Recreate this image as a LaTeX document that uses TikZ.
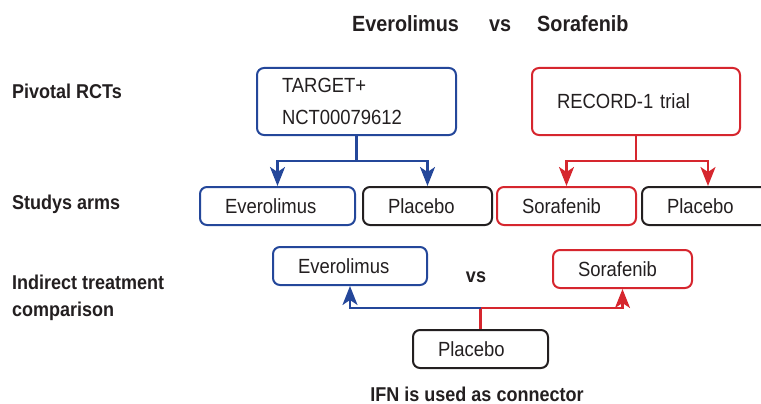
\documentclass[tikz,border=0pt]{standalone}
\usepackage{fontspec}
\setmainfont{Liberation Sans}[FakeStretch=0.9]
\usepackage{xcolor}
\definecolor{Ink}{HTML}{231F20}
\definecolor{TrialBlue}{HTML}{24479A}
\definecolor{TrialRed}{HTML}{D6262E}
\usepackage{tikz}
\usetikzlibrary{arrows.meta, positioning}

\begin{document}
\begin{tikzpicture}[x=1pt, y=-1pt, >={Stealth[length=19pt, width=15pt, inset=5pt]},
  box/.style={rectangle, rounded corners=7pt, line width=2pt, fill=white,
              inner xsep=25pt, inner ysep=0pt, minimum height=38pt, text width=#1,
              align=left, text=Ink, font=\fontsize{20.5}{32}\selectfont},
  bluebox/.style={box=#1, draw=TrialBlue},
  redbox/.style={box=#1, draw=TrialRed},
  inkbox/.style={box=#1, draw=Ink},
  rowlbl/.style={anchor=base west, align=left, text=Ink, inner sep=0pt,
                 font=\bfseries\fontsize{20}{27}\selectfont},
  ttl/.style={anchor=base west, text=Ink, inner sep=0pt,
              font=\bfseries\fontsize{22}{26}\selectfont},
  barr/.style={->, line width=2.3pt, draw=TrialBlue, color=TrialBlue},
  rarr/.style={->, line width=2.3pt, draw=TrialRed, color=TrialRed},
  rline/.style={line width=2.3pt, draw=TrialRed}
]
\path[use as bounding box, clip] (0,0) rectangle (761,404);

%% ---- Title ----
\node[ttl] (ttlEv) at (352, 32) {Everolimus};
\node[ttl] (ttlVs) at (489, 32) {vs};
\node[ttl] (ttlSo) at (537, 32) {Sorafenib};

%% ---- Row labels (left) ----
\node[rowlbl] (lblRct)  at (12, 99)  {Pivotal RCTs};
\node[rowlbl] (lblArms) at (12, 209) {Studys arms};
\node[rowlbl, anchor=west] (lblInd) at (12, 298) {Indirect treatment\\comparison};

%% ---- Pivotal trials ----
\node[bluebox=149pt, minimum height=67pt] (target) at (356.5, 101.5) {TARGET+\\NCT00079612};
\node[redbox=158pt,  minimum height=67pt] (record) at (636, 101.5)   {RECORD-1 trial};

%% ---- Study arms ----
\node[bluebox=105pt] (evArm)  at (277.5, 206) {Everolimus};
\node[inkbox=79pt]   (plArmL) at (427.5, 206) {Placebo};
\node[redbox=89pt]   (soArm)  at (566.5, 206) {Sorafenib};
\node[inkbox=82pt]   (plArmR) at (708, 206)   {Placebo};

%% ---- Indirect comparison ----
\node[bluebox=104pt] (evInd) at (350, 266)   {Everolimus};
\node[redbox=89pt]   (soInd) at (622.5, 269) {Sorafenib};
\node[ttl, anchor=base, font=\bfseries\fontsize{20}{24}\selectfont] (vsInd) at (476, 282) {vs};
\node[inkbox=85pt]   (plBot) at (480.5, 349) {Placebo};

\node[ttl, anchor=base, font=\bfseries\fontsize{20}{24}\selectfont] (ifnNote) at (477, 401)
  {IFN is used as connector};

%% ---- Trial to arm arrows ----
\draw[barr] (target.south) -- ++(0,25) -| (evArm.north);
\draw[barr] (target.south) -- ++(0,25) -| (plArmL.north);
\draw[rarr] (record.south) -- ++(0,25) -| (soArm.north);
\draw[rarr] (record.south) -- ++(0,25) -| (plArmR.north);

%% ---- Common comparator arrows ----
\draw[rline] (plBot.north) -- ++(0,-21) coordinate (fork);
\draw[barr] (fork) -| (evInd.south);
\draw[rarr] (fork) -| (soInd.south);

\end{tikzpicture}
\end{document}
